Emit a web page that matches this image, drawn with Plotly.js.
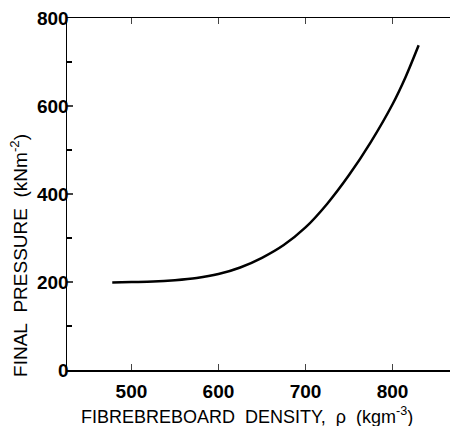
<!DOCTYPE html>
<html>
<head>
<meta charset="utf-8">
<script src="https://cdn.plot.ly/plotly-3.0.1.min.js"></script>
<style>html,body{margin:0;padding:0;background:#fff;}#chart{width:450px;height:426px;}</style>
</head>
<body>
<div id="chart"></div>
<script>
const density = [478, 500, 525, 550, 575, 600, 625, 650, 675, 700, 725, 750, 775, 800, 815, 830];
const pressure = [199, 200, 201, 204, 209, 218, 233, 255, 284, 324, 378, 443, 518, 604, 666, 738];
const xTickVals = [500, 600, 700, 800];
const yTickVals = [0, 200, 400, 600, 800];
const xTitle = 'FIBREBREBOARD&nbsp; DENSITY,&nbsp; ρ&nbsp; (kgm<sup>-3</sup>)';
const yTitle = 'FINAL&nbsp; PRESSURE&nbsp; (kNm<sup>-2</sup>)';

const fam = 'Liberation Sans, Arial, sans-serif';
const tickFont = {family: fam, color: '#000', size: 19, weight: 'bold'};
const xTitleFont = {family: fam, color: '#000', size: 18};
const yTitleFont = {family: fam, color: '#000', size: 19};

Plotly.newPlot('chart', [{
  x: density, y: pressure, type: 'scatter', mode: 'lines',
  line: {color: '#000', width: 2.5, shape: 'spline', smoothing: 0.8}, hoverinfo: 'none'
}], {
  width: 450, height: 426,
  margin: {l: 67, r: 0, t: 18, b: 56},
  paper_bgcolor: '#fff', plot_bgcolor: '#fff',
  showlegend: false,
  font: {family: fam, color: '#000', size: 17},
  xaxis: {
    range: [426, 866], tickvals: xTickVals, ticks: 'inside', ticklen: 6, tickwidth: 1.5,
    showline: true, linewidth: 1.5, linecolor: '#000', mirror: 'ticks',
    showgrid: false, zeroline: false, tickfont: tickFont, ticklabelstandoff: 4
  },
  yaxis: {
    range: [0, 800], tickvals: yTickVals, ticks: 'inside', ticklen: 6, tickwidth: 1.5,
    showline: true, linewidth: 1.5, linecolor: '#000',
    minor: {dtick: 100, tick0: 0, ticks: 'inside', ticklen: 5, tickwidth: 1.2, tickcolor: '#000', showgrid: false},
    showgrid: false, zeroline: false, tickfont: tickFont, ticklabelstandoff: -7
  },
  annotations: [
    {text: xTitle, xref: 'paper', yref: 'paper', x: 0.47, y: 0, yshift: -45, yanchor: 'middle', xanchor: 'center', showarrow: false, font: xTitleFont},
    {text: yTitle, xref: 'paper', yref: 'paper', x: 0, xshift: -48, y: 0.324, xanchor: 'center', yanchor: 'middle', textangle: -90, showarrow: false, font: yTitleFont}
  ]
}, {staticPlot: true});
</script>
</body>
</html>
